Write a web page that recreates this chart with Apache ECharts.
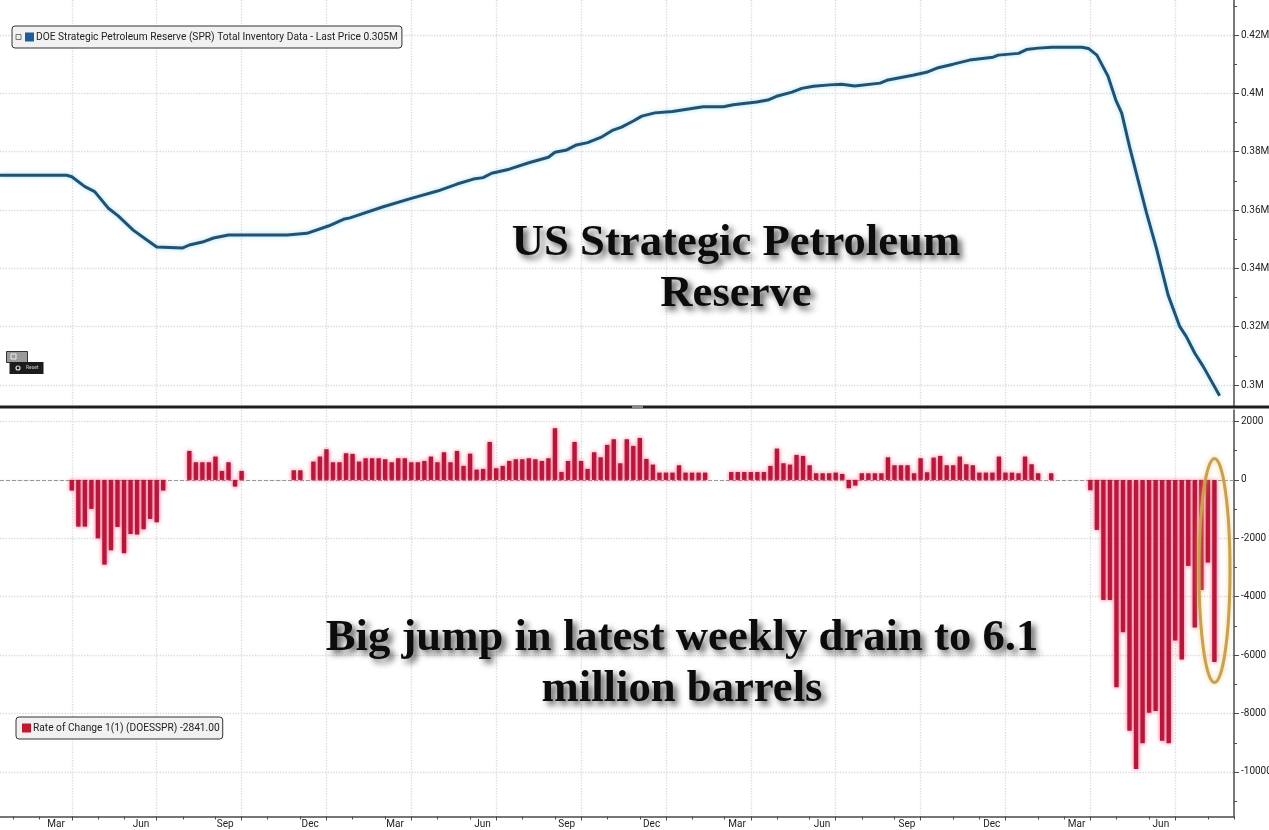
<!DOCTYPE html>
<html>
<head>
<meta charset="utf-8">
<style>html,body{margin:0;padding:0;background:#fff;overflow:hidden}#c{width:1269px;height:830px}</style>
<script src="https://cdn.jsdelivr.net/npm/echarts@6/dist/echarts.min.js"></script>
</head>
<body>
<div id="c"></div>
<script>
// Weekly position along the time axis (0 = left edge of chart)
const lineWeeks = [0,10.2,11,13,14.5,16.6,18.1,20.4,22.5,24,28,29,31,32.7,35,37,44,47,50.3,52.6,53.6,58.7,63,67,70,72.5,74,75.3,78,81,84,85,86.8,88.3,90,92.2,93.9,95.2,97,98.3,100.3,103,105.7,107.7,110.8,112.3,115.9,117.6,119.1,121.3,122.8,124.6,127.1,128.9,130.9,134.8,136,139.8,141.9,143.7,146,148.5,152.1,152.9,156,157.2,159,161.1,165.7,166.7,168,169.7,170.9,171.8,173,174.3,175.6,177.1,178.9,180.7,181.7,183,184.3,186.8];
const lineValues = [0.3719,0.3719,0.3714,0.3680,0.3663,0.3606,0.3580,0.3531,0.3497,0.3473,0.3470,0.3480,0.3490,0.3504,0.3514,0.3514,0.3514,0.3520,0.3545,0.3568,0.3573,0.3611,0.3640,0.3665,0.3689,0.3706,0.3711,0.3726,0.3740,0.3762,0.3781,0.3798,0.3806,0.3823,0.3831,0.3851,0.3874,0.3884,0.3905,0.3922,0.3933,0.3938,0.3947,0.3954,0.3954,0.3961,0.3970,0.3977,0.3991,0.4004,0.4017,0.4024,0.4029,0.4031,0.4025,0.4035,0.4046,0.4062,0.4072,0.4088,0.4100,0.4114,0.4124,0.4131,0.4137,0.4150,0.4155,0.4158,0.4158,0.4154,0.4131,0.4059,0.3977,0.3932,0.3817,0.3703,0.3590,0.3470,0.3309,0.3200,0.3166,0.3109,0.3063,0.2963];
// Weekly change, one value per week from week 0
const weeklyChange = [0,0,0,0,0,0,0,0,0,0,0,
-365,-1600,-1600,-993,-2000,-2900,-2410,-1610,-2510,-1850,-1870,-1690,-1335,-1450,-365,0,0,0,
993,605,605,605,800,308,605,-228,308,0,0,0,0,0,0,0,330,330,0,
628,800,1050,605,605,913,890,628,742,742,742,708,605,742,742,605,605,
650,800,605,947,605,993,480,900,354,377,1300,400,480,650,708,708,742,708,650,742,1770,274,650,1300,650,377,947,776,1200,1393,570,1393,1164,1438,720,525,250,250,250,502,250,250,250,250,0,0,0,
270,270,270,270,270,270,480,1073,570,525,856,822,502,228,228,228,250,
205,-285,-195,228,228,228,228,776,502,502,502,228,742,262,765,822,502,502,800,536,502,250,250,250,800,250,250,228,800,536,228,0,228,0,0,0,0,0,
-354,-1712,-4110,-4110,-7100,-5217,-8584,-9900,-9020,-7970,-7910,-8930,-9020,-5500,-6150,-2945,-5050,-3770,-2830,-6230];

const quarterWeeks = [11,24,37,50,63,76,89,102,115,128,141,154,167,180];
const monthWeeks = [2,6,11,15,19,24,28,33,37,41,46,50,54,59,63,67,72,76,80,85,89,93,98,102,106,111,115,119,124,128,132,137,141,146,150,154,159,163,167,171,176,180,185,189];
const monthLabels = ['Mar','Jun','Sep','Dec','Mar','Jun','Sep','Dec','Mar','Jun','Sep','Dec','Mar','Jun'];
const labelWeeks = [8.6,21.6,34.5,47.5,60.5,73.9,86.8,99.8,112.9,125.9,138.9,151.9,164.9,177.8];
const priceTicks = [0.3,0.32,0.34,0.36,0.38,0.4,0.42];
const priceMinor = [0.31,0.33,0.35,0.37,0.39,0.41,0.43];
const changeTicks = [-10000,-8000,-6000,-4000,-2000,0,2000];
const changeMinor = [-11000,-9000,-7000,-5000,-3000,-1000,1000];
const lineName = 'DOE Strategic Petroleum Reserve (SPR) Total Inventory Data - Last Price 0.305M';
const barName = 'Rate of Change 1(1) (DOESSPR) -2841.00';

const gridCol = '#dcdcdc';
const axisCol = '#4a4a4a';
const font = 'Roboto';
const plotWidth = 1234, paneHeight = 406.5;
const split = () => ({show:true, lineStyle:{color:gridCol, type:'dotted', width:1.4}});
const yLabel = (vals, fmt) => ({show:true, customValues:vals, formatter:fmt, color:'#222', fontFamily:font, fontSize:10, margin:7, align:'left'});
const minorY = (grid, min, max, vals) => ({type:'value', gridIndex:grid, position:'left', offset:-plotWidth, min, max,
  axisLine:{show:false}, axisTick:{show:true, inside:true, customValues:vals, length:3, lineStyle:{color:axisCol}}, axisLabel:{show:false}, splitLine:{show:false}});
const titleStyle = {fontFamily:'Liberation Serif', fontWeight:'bold', fontSize:44.7, lineHeight:51, color:'#0c0c0c', textShadowColor:'rgba(0,0,0,0.65)', textShadowBlur:6, textShadowOffsetX:4, textShadowOffsetY:4};
const legendText = {fontFamily:font, fontSize:10.2, color:'#222', padding:[0,0,0,-3]};

const chart = echarts.init(document.getElementById('c'));
chart.setOption({
  animation:false,
  backgroundColor:'#fff',
  title:[
    {text:'US Strategic Petroleum\nReserve', left:731, top:213, textAlign:'center', textStyle:titleStyle},
    {text:'Big jump in latest weekly drain to 6.1\nmillion barrels', left:677, top:608, textAlign:'center', textStyle:titleStyle}
  ],
  legend:[
    {data:[{name:lineName, icon:'rect', itemStyle:{color:'#1f5c9e'}}], left:12, top:26, selectedMode:false, itemWidth:9, itemHeight:9, itemGap:0,
     padding:[6,4,6,13], backgroundColor:'#f1f1f1', borderColor:'#333', borderWidth:1, borderRadius:3, textStyle:legendText},
    {data:[{name:barName, icon:'rect', itemStyle:{color:'#c4182f'}}], left:16, top:717, selectedMode:false, itemWidth:9, itemHeight:9, itemGap:0,
     padding:[6,3,6,6], backgroundColor:'#f1f1f1', borderColor:'#333', borderWidth:1, borderRadius:3, textStyle:legendText}
  ],
  grid:[
    {left:0, top:0, width:plotWidth, height:406, outerBoundsMode:'none', containLabel:false},
    {left:0, top:410, width:plotWidth, height:paneHeight, outerBoundsMode:'none', containLabel:false}
  ],
  xAxis:[
    {type:'value', min:0, max:189, gridIndex:0, axisLine:{show:false}, axisTick:{show:true, customValues:quarterWeeks, length:0}, axisLabel:{show:false}, splitLine:split()},
    {type:'value', min:0, max:189, gridIndex:1, position:'bottom', axisLine:{show:true, onZero:false, lineStyle:{color:axisCol, width:1.5}}, splitLine:split(),
      axisTick:{show:true, customValues:quarterWeeks, length:4, lineStyle:{color:axisCol}},
      axisLabel:{show:true, customValues:labelWeeks, margin:3, color:'#222', fontFamily:font, fontSize:10,
        formatter:(v)=>monthLabels[labelWeeks.indexOf(v)]}},
    {type:'value', min:0, max:189, gridIndex:1, position:'top', offset:-paneHeight, axisLine:{show:false, onZero:false}, splitLine:{show:false}, axisLabel:{show:false},
      axisTick:{show:true, inside:true, customValues:monthWeeks, length:3, lineStyle:{color:axisCol}}}
  ],
  yAxis:[
    {type:'value', gridIndex:0, position:'right', min:0.2928, max:0.432, axisLine:{show:true, onZero:false, lineStyle:{color:axisCol, width:1.5}},
     axisTick:{show:true, customValues:priceTicks, length:5, lineStyle:{color:axisCol}},
     axisLabel:yLabel(priceTicks, (v)=>(+v.toFixed(2))+'M'), splitLine:split()},
    minorY(0, 0.2928, 0.432, priceMinor),
    {type:'value', gridIndex:1, position:'right', min:-11524, max:2394, axisLine:{show:true, onZero:false, lineStyle:{color:axisCol, width:1.5}},
     axisTick:{show:true, customValues:changeTicks, length:5, lineStyle:{color:axisCol}},
     axisLabel:yLabel(changeTicks, (v)=>String(v)), splitLine:split()},
    minorY(1, -11524, 2394, changeMinor)
  ],
  series:[
    {name:lineName, type:'line', xAxisIndex:0, yAxisIndex:0, showSymbol:false, smooth:false,
     data:lineWeeks.map((w,i)=>[w,lineValues[i]]),
     lineStyle:{color:'#225273', width:3, shadowColor:'rgba(120,210,240,0.7)', shadowBlur:4}, itemStyle:{color:'#1f5c9e'}},
    {name:barName, type:'bar', xAxisIndex:1, yAxisIndex:2, barWidth:4.4,
     data:weeklyChange.map((v,i)=>[i,v]),
     itemStyle:{color:'#b5173a', shadowColor:'rgba(255,80,120,0.95)', shadowBlur:4},
     markLine:{silent:true, symbol:'none', label:{show:false}, lineStyle:{color:'#999', type:'dashed', width:1}, data:[{yAxis:0}], z:1}}
  ],
  graphic:[
    {type:'rect', z:50, shape:{x:0,y:405.5,width:1269,height:3}, style:{fill:'#1e1e1e'}, silent:true},
    {type:'rect', z:51, shape:{x:632,y:406,width:11,height:2}, style:{fill:'#8a8a8a'}, silent:true},
    {type:'ellipse', z:60, shape:{cx:1214.5,cy:570.5,rx:15.5,ry:112}, style:{fill:'none', stroke:'#c8a050', lineWidth:3, shadowColor:'rgba(235,200,110,0.8)', shadowBlur:5}, silent:true},
    {type:'rect', z:55, shape:{x:16,y:34.5,width:5,height:5}, style:{fill:'#eee', stroke:'#777', lineWidth:1}, silent:true},
    {type:'rect', z:55, shape:{x:6.5,y:351.5,width:21,height:11}, style:{fill:'#9a9a9a', stroke:'#333', lineWidth:1}, silent:true},
    {type:'rect', z:56, shape:{x:11,y:354,width:5,height:5}, style:{fill:'none', stroke:'#eee', lineWidth:1}, silent:true},
    {type:'rect', z:55, shape:{x:9.5,y:362,width:34,height:12}, style:{fill:'#1c1c1c'}, silent:true},
    {type:'circle', z:56, shape:{cx:18,cy:368,r:2}, style:{fill:'#1c1c1c', stroke:'#ddd', lineWidth:1.2}, silent:true},
    {type:'text', z:56, x:26, y:365, style:{text:'Reset', fill:'#ccc', font:'5px Roboto'}, silent:true}
  ]
});
</script>
</body>
</html>
